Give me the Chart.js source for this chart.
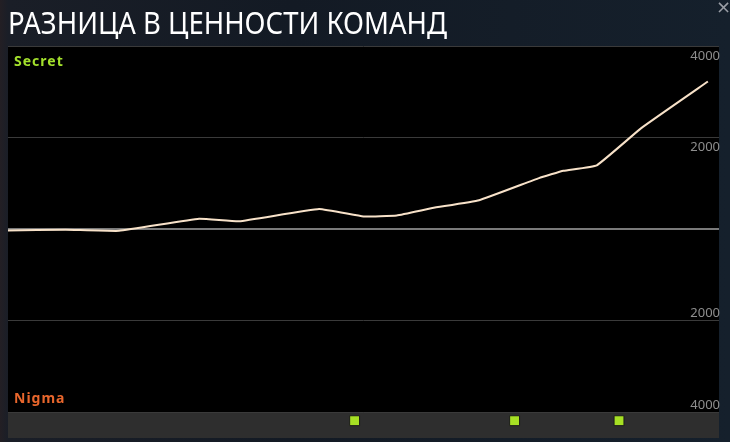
<!DOCTYPE html>
<html><head><meta charset="utf-8">
<script src="https://cdn.jsdelivr.net/npm/chart.js@4"></script>
<style>
html,body{margin:0;padding:0;width:730px;height:442px;overflow:hidden;background:#121923;}
#wrap{position:relative;width:730px;height:442px;background:linear-gradient(90deg,#231f24 0,#1a1e27 8px,#131a24 40%,#15202c 100%);}
#title{position:absolute;left:8px;top:8px;font-family:"Noto Sans";font-size:30px;line-height:30px;color:#fff;white-space:nowrap;transform-origin:0 0;}
.team{position:absolute;left:14px;font-family:"Noto Sans";font-weight:bold;font-size:14px;line-height:14px;letter-spacing:1px;}
#secret{top:54px;color:#a3e02c;}
#nigma{top:391px;color:#e8662c;}
#close{position:absolute;left:716px;top:-4px;font-family:"DejaVu Sans";font-size:18px;color:#9a9ea6;}
canvas{position:absolute;left:0;top:0;}
</style></head>
<body><div id="wrap">
<canvas id="c" width="730" height="442"></canvas>
<div id="title">РАЗНИЦА В ЦЕННОСТИ КОМАНД</div>
<div class="team" id="secret">Secret</div>
<div class="team" id="nigma">Nigma</div>
<div id="close">×</div>
</div>
<script>
// game time in minutes and net worth difference (Secret minus Nigma)
const minutes = [0, 2.6, 5.0, 8.6, 10.4, 14.0, 16.0, 17.5, 19.1, 21.2, 23.9, 25.0, 26.5, 28.5, 31.5];
const netWorthDiff = [-30, -15, -40, 225, 170, 437, 273, 297, 458, 629, 1113, 1273, 1393, 2205, 3223];
const yTicks = [-4000, -2000, 0, 2000, 4000];
const eventMinutes = [15.6, 22.8, 27.5];

const Y_MAX = 4000, Y_MIN = -4568, X_MAX = 32, EVENT_LANE = -4190;

const t = document.getElementById('title');
t.style.transform = 'scaleX(' + (439 / t.getBoundingClientRect().width) + ')';

const panelPlugin = {
  id: 'panel',
  beforeDraw(chart) {
    const {ctx, chartArea: a, scales: {y}} = chart;
    const base = y.getPixelForValue(yTicks[0]);
    ctx.save();
    ctx.fillStyle = '#000';
    ctx.fillRect(a.left, a.top, a.right - a.left, base - a.top);
    ctx.fillStyle = '#2e2e2e';
    ctx.fillRect(a.left, base, a.right - a.left, a.bottom - base);
    ctx.restore();
  }
};

function noSpace(s) {
  s.width = 0;
  s.paddingTop = 0; s.paddingBottom = 0; s.paddingLeft = 0; s.paddingRight = 0;
}

const tickFont = {family: 'Noto Sans', size: 13};
function labelAxis(filter, offset) {
  return {
    min: Y_MIN, max: Y_MAX, position: 'right',
    afterBuildTicks: s => { s.ticks = yTicks.filter(filter).map(v => ({value: v})); },
    afterFit: noSpace,
    ticks: {mirror: true, padding: 1, labelOffset: offset, color: '#8e8e8e', font: tickFont,
            callback: v => String(Math.abs(v))},
    grid: {display: false, drawTicks: false},
    border: {display: false}
  };
}

new Chart(document.getElementById('c'), {
  type: 'line',
  data: {
    datasets: [
      {
        data: minutes.map((m, i) => ({x: m, y: netWorthDiff[i]})),
        borderColor: '#f8e2c9', borderWidth: 2, pointRadius: 0, tension: 0.1, yAxisID: 'y'
      },
      {
        type: 'scatter',
        data: eventMinutes.map(m => ({x: m, y: EVENT_LANE})),
        pointStyle: 'rect', pointRadius: 7, backgroundColor: '#a6e024',
        borderColor: '#1b1b1b', borderWidth: 1, yAxisID: 'y'
      }
    ]
  },
  options: {
    responsive: false, animation: false,
    layout: {autoPadding: false, padding: {left: 8, right: 11, top: 46, bottom: 4}},
    plugins: {legend: {display: false}, tooltip: {enabled: false}},
    scales: {
      x: {type: 'linear', min: 0, max: X_MAX, display: false},
      y: {
        min: Y_MIN, max: Y_MAX, position: 'left',
        afterBuildTicks: s => { s.ticks = yTicks.map(v => ({value: v})); },
        afterFit: noSpace,
        ticks: {display: false},
        grid: {color: c => c.tick.value === 0 ? '#7a7a7a' : '#3a3a3a',
               lineWidth: c => c.tick.value === 0 ? 2 : 1, drawTicks: false},
        border: {display: false}
      },
      yUp: labelAxis(v => v > 0, 10),
      yDown: labelAxis(v => v < 0, -7)
    }
  },
  plugins: [panelPlugin]
});
</script>
</body></html>
